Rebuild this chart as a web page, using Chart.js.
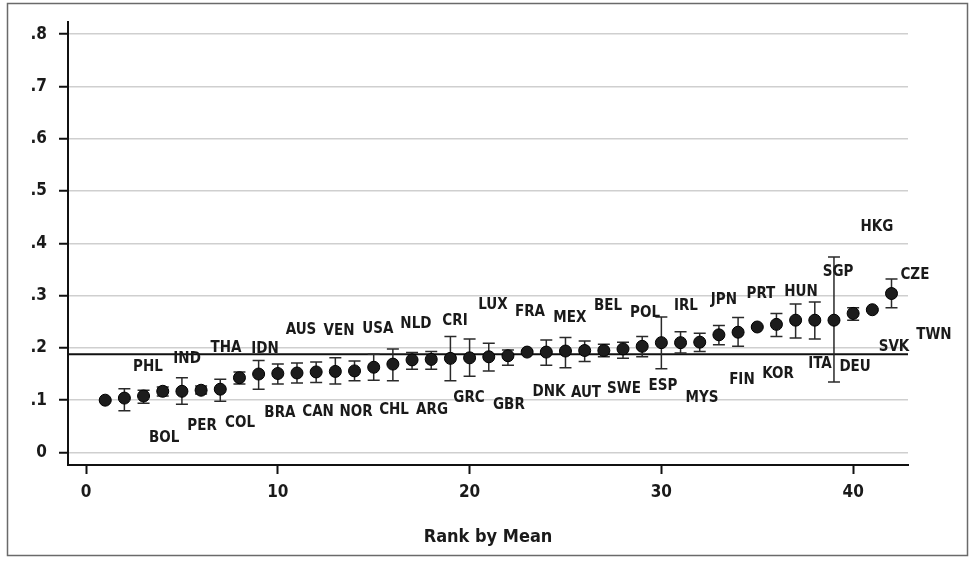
<!DOCTYPE html>
<html lang="en">
<head>
<meta charset="UTF-8">
<title>Rank by Mean</title>
<script src="https://cdn.jsdelivr.net/npm/chart.js"></script>
<style>
  html, body { margin: 0; padding: 0; background: #fff; }
</style>
</head>
<body>
<canvas id="grafico" width="975" height="561"></canvas>
<script>
  // ranks and country codes (label of each rank)
  var ranks = [1,2,3,4,5,6,7,8,9,10,11,12,13,14,15,16,17,18,19,20,21,22,23,24,25,26,27,28,29,30,31,32,33,34,35,36,37,38,39,40,41,42]
  var paises = ['PHL','BOL','IND','PER','THA','COL','IDN','BRA','AUS','CAN','VEN','NOR','USA','CHL','NLD','ARG','CRI','GRC','LUX','GBR','FRA','DNK','MEX','AUT','BEL','SWE','POL','ESP','IRL','MYS','JPN','FIN','PRT','KOR','HUN','ITA','SGP','DEU','HKG','SVK','CZE','TWN']

  // mean and interval per rank
  var medias = [0.100,0.104,0.108,0.117,0.117,0.119,0.121,0.143,0.150,0.151,0.152,0.154,0.155,0.156,0.163,0.169,0.177,0.178,0.180,0.181,0.183,0.185,0.192,0.192,0.194,0.195,0.195,0.198,0.203,0.210,0.210,0.211,0.225,0.230,0.240,0.245,0.253,0.253,0.253,0.266,0.273,0.304]
  var inferior = [0.098,0.080,0.094,0.108,0.092,0.112,0.098,0.131,0.121,0.131,0.133,0.134,0.131,0.137,0.138,0.137,0.159,0.159,0.137,0.146,0.156,0.167,0.189,0.167,0.162,0.174,0.183,0.180,0.183,0.160,0.190,0.193,0.206,0.203,0.238,0.222,0.219,0.217,0.135,0.253,0.271,0.277]
  var superior = [0.102,0.122,0.119,0.125,0.143,0.127,0.140,0.154,0.176,0.169,0.171,0.173,0.181,0.175,0.188,0.198,0.191,0.193,0.222,0.217,0.209,0.196,0.195,0.215,0.220,0.213,0.207,0.211,0.222,0.259,0.231,0.228,0.243,0.258,0.242,0.266,0.284,0.288,0.374,0.277,0.275,0.332]

  // where each country code is written (data units)
  var labelX = [3.23,4.07,5.27,6.05,7.30,8.03,9.33,10.11,11.21,12.10,13.19,14.08,15.22,16.06,17.20,18.04,19.24,19.97,21.22,22.05,23.15,24.14,25.23,26.07,27.22,28.05,29.15,30.08,31.28,32.12,33.26,34.20,35.19,36.08,37.28,38.27,39.21,40.10,41.24,42.13,43.22,44.21]
  var labelY = [0.163,0.028,0.179,0.051,0.200,0.056,0.198,0.076,0.234,0.077,0.232,0.077,0.236,0.081,0.246,0.081,0.251,0.104,0.282,0.091,0.269,0.116,0.257,0.114,0.280,0.121,0.267,0.127,0.280,0.104,0.292,0.139,0.303,0.150,0.307,0.169,0.345,0.163,0.431,0.202,0.339,0.225]

  var mediaGeral = 0.188
  var xTicks = [0, 10, 20, 30, 40]
  var yTicks = [0, 0.1, 0.2, 0.3, 0.4, 0.5, 0.6, 0.7, 0.8]

  var fonte = '"Liberation Sans Narrow", "DejaVu Sans Condensed", "Roboto", sans-serif'

  // error bars, mean line, labels and frame
  var extras = {
    id: 'extras',
    beforeDatasetsDraw: function (chart) {
      var ctx = chart.ctx
      var sx = chart.scales.x, sy = chart.scales.y
      var area = chart.chartArea
      ctx.save()
      // overall mean line
      ctx.strokeStyle = '#111'
      ctx.lineWidth = 2
      var ym = sy.getPixelForValue(mediaGeral)
      ctx.beginPath()
      ctx.moveTo(area.left, ym)
      ctx.lineTo(area.right, ym)
      ctx.stroke()
      // intervals
      ctx.strokeStyle = '#2a2a2a'
      ctx.lineWidth = 1.5
      for (var i = 0; i < ranks.length; i++) {
        var x = sx.getPixelForValue(ranks[i])
        var y1 = sy.getPixelForValue(inferior[i])
        var y2 = sy.getPixelForValue(superior[i])
        ctx.beginPath()
        ctx.moveTo(x, y1); ctx.lineTo(x, y2)
        ctx.moveTo(x - 6, y1); ctx.lineTo(x + 6, y1)
        ctx.moveTo(x - 6, y2); ctx.lineTo(x + 6, y2)
        ctx.stroke()
      }
      ctx.restore()
    },
    afterDatasetsDraw: function (chart) {
      var ctx = chart.ctx
      var sx = chart.scales.x, sy = chart.scales.y
      ctx.save()
      ctx.fillStyle = '#1a1a1a'
      ctx.font = 'bold 15px ' + fonte
      ctx.textAlign = 'center'
      ctx.textBaseline = 'middle'
      for (var i = 0; i < paises.length; i++) {
        ctx.fillText(paises[i], sx.getPixelForValue(labelX[i]), sy.getPixelForValue(labelY[i]))
      }
      ctx.restore()
    },
    afterDraw: function (chart) {
      var ctx = chart.ctx
      ctx.save()
      ctx.strokeStyle = '#6a6a6a'
      ctx.lineWidth = 1.5
      ctx.strokeRect(7.5, 3.5, 960, 552)
      ctx.restore()
    }
  }

  var dados = {
    datasets: [{
      label: 'Mean',
      data: ranks.map(function (r, i) { return { x: r, y: medias[i] } }),
      pointRadius: 6,
      pointHoverRadius: 6,
      backgroundColor: '#1c1c1c',
      borderColor: '#000',
      borderWidth: 1
    }]
  }

  var config = {
    type: 'scatter',
    data: dados,
    plugins: [extras],
    options: {
      responsive: false,
      animation: false,
      layout: { padding: { left: 0, right: 67, top: 22, bottom: 13 } },
      plugins: {
        legend: { display: false },
        tooltip: { enabled: false }
      },
      scales: {
        x: {
          type: 'linear',
          min: -0.94,
          max: 42.86,
          afterBuildTicks: function (s) { s.ticks = xTicks.map(function (v) { return { value: v } }) },
          afterFit: function (s) { s.height = 83 },
          grid: { drawOnChartArea: false, drawTicks: true, tickLength: 9, tickColor: '#111', tickWidth: 2 },
          border: { display: true, color: '#111', width: 2 },
          ticks: { color: '#1a1a1a', padding: 8, maxRotation: 0, font: { family: fonte, size: 17, weight: 'bold' } },
          title: { display: true, text: 'Rank by Mean', color: '#1a1a1a', padding: { top: 6, bottom: 0 }, font: { family: fonte, size: 18, weight: 'bold' } }
        },
        y: {
          type: 'linear',
          min: -0.024,
          max: 0.823,
          afterBuildTicks: function (s) { s.ticks = yTicks.map(function (v) { return { value: v } }) },
          afterFit: function (s) { s.width = 68 },
          grid: { color: '#cfcfcf', lineWidth: 1.5, drawTicks: true, tickLength: 9, tickColor: '#111', tickWidth: 2 },
          border: { display: true, color: '#111', width: 2 },
          ticks: {
            color: '#1a1a1a', padding: 12, font: { family: fonte, size: 17, weight: 'bold' },
            callback: function (v) { return v === 0 ? '0' : v.toFixed(1).replace('0.', '.') }
          }
        }
      }
    }
  }

  var meuGrafico = new Chart(document.getElementById('grafico'), config)
</script>
</body>
</html>
